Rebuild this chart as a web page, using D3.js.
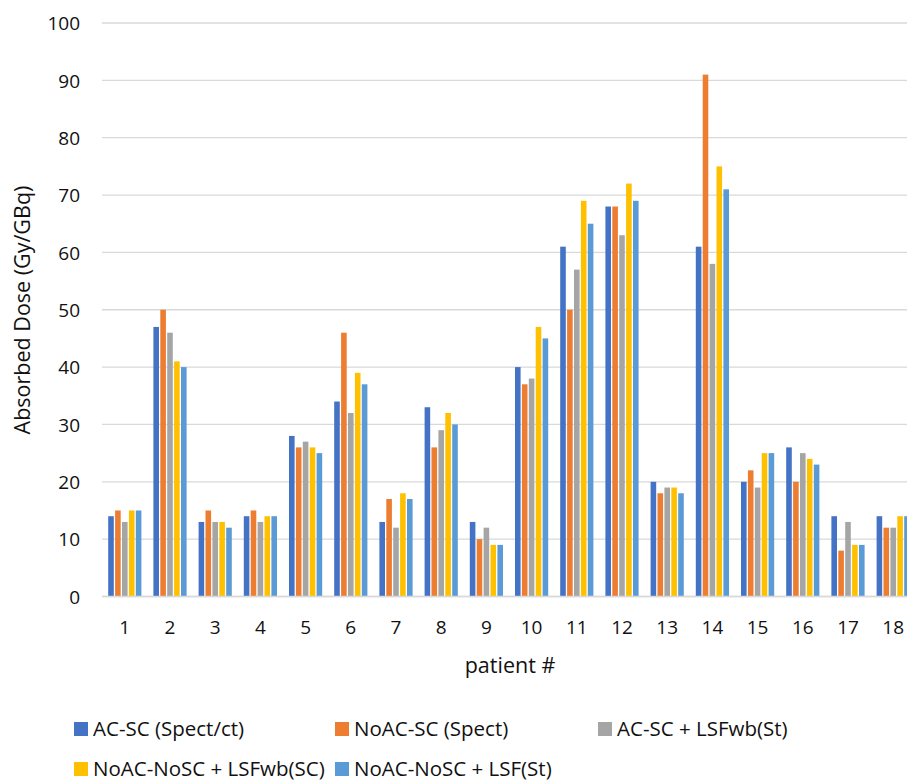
<!DOCTYPE html>
<html>
<head>
<meta charset="utf-8">
<script src="https://cdn.jsdelivr.net/npm/d3@7"></script>
<style>
  html, body { margin: 0; padding: 0; background: #fff; }
  svg { display: block; }
  text { font-family: "Open Sans", "Noto Sans", sans-serif; fill: #111; }
</style>
</head>
<body>
<svg id="chart" width="907" height="783"></svg>
<script>
// Patients on the category axis
const patients = ["1","2","3","4","5","6","7","8","9","10","11","12","13","14","15","16","17","18"];

// Absorbed dose per patient (Gy/GBq) for each reconstruction method
const acScSpectCt     = [14, 47, 13, 14, 28, 34, 13, 33, 13, 40, 61, 68, 20, 61, 20, 26, 14, 14];
const noAcScSpect     = [15, 50, 15, 15, 26, 46, 17, 26, 10, 37, 50, 68, 18, 91, 22, 20,  8, 12];
const acScLsfwbSt     = [13, 46, 13, 13, 27, 32, 12, 29, 12, 38, 57, 63, 19, 58, 19, 25, 13, 12];
const noAcNoScLsfwbSc = [15, 41, 13, 14, 26, 39, 18, 32,  9, 47, 69, 72, 19, 75, 25, 24,  9, 14];
const noAcNoScLsfSt   = [15, 40, 12, 14, 25, 37, 17, 30,  9, 45, 65, 69, 18, 71, 25, 23,  9, 14];

const seriesNames = [
  "AC-SC (Spect/ct)",
  "NoAC-SC (Spect)",
  "AC-SC + LSFwb(St)",
  "NoAC-NoSC + LSFwb(SC)",
  "NoAC-NoSC + LSF(St)"
];
const seriesValues = [acScSpectCt, noAcScSpect, acScLsfwbSt, noAcNoScLsfwbSc, noAcNoScLsfSt];
const seriesColors = ["#4472C4", "#ED7D31", "#A5A5A5", "#FFC000", "#5B9BD5"];

const yTicks = [0, 10, 20, 30, 40, 50, 60, 70, 80, 90, 100];

const svg = d3.select("#chart");

// Scales
const x0 = d3.scaleBand().domain(patients).range([102.2, 915.8]).padding(0);
const x1 = d3.scaleBand().domain(d3.range(seriesNames.length))
  .range([0, x0.bandwidth()]).paddingInner(0.19).paddingOuter(0.87);
const y = d3.scaleLinear().domain([0, 100]).range([596.5, 23]);

// Horizontal gridlines
svg.append("g")
  .selectAll("line")
  .data(yTicks)
  .join("line")
  .attr("x1", 102).attr("x2", 920)
  .attr("y1", d => y(d)).attr("y2", d => y(d))
  .attr("stroke", "#d9d9d9")
  .attr("stroke-width", 1.3);

// Y axis labels
const yAxis = d3.axisLeft(y).tickValues(yTicks).tickSize(0).tickPadding(0);
const gy = svg.append("g").attr("transform", "translate(80,0)").call(yAxis);
gy.select(".domain").remove();
gy.selectAll("text")
  .attr("font-size", 19)
  .attr("font-family", "Open Sans, sans-serif")
  .attr("fill", "#111")
  .attr("dy", "0.36em");

// Bars
const groups = svg.append("g")
  .selectAll("g")
  .data(patients)
  .join("g")
  .attr("transform", d => `translate(${x0(d)},0)`);

groups.selectAll("rect")
  .data((d, i) => seriesValues.map((vals, s) => ({ s, v: vals[i] })))
  .join("rect")
  .attr("x", d => x1(d.s))
  .attr("width", x1.bandwidth())
  .attr("y", d => y(d.v))
  .attr("height", d => y(0) - y(d.v))
  .attr("fill", d => seriesColors[d.s]);

// Baseline
svg.append("line")
  .attr("x1", 102).attr("x2", 920)
  .attr("y1", y(0)).attr("y2", y(0))
  .attr("stroke", "#d9d9d9").attr("stroke-width", 1.5);

// X axis labels
const xAxis = d3.axisBottom(x0).tickSize(0).tickPadding(0);
const gx = svg.append("g").attr("transform", `translate(0,${y(0)})`).call(xAxis);
gx.select(".domain").remove();
gx.selectAll("text")
  .attr("font-size", 19)
  .attr("font-family", "Open Sans, sans-serif")
  .attr("fill", "#111")
  .attr("y", 37.5)
  .attr("dy", null);

// Axis titles
svg.append("text")
  .attr("x", 510).attr("y", 673)
  .attr("text-anchor", "middle")
  .attr("font-size", 21.5)
  .text("patient #");

svg.append("text")
  .attr("transform", "translate(30,310) rotate(-90)")
  .attr("text-anchor", "middle")
  .attr("font-size", 21.5)
  .text("Absorbed Dose (Gy/GBq)");

// Legend
const legendPos = [
  { x: 74, y: 729 }, { x: 335, y: 729 }, { x: 598, y: 729 },
  { x: 74, y: 769 }, { x: 335, y: 769 }
];
const legend = svg.append("g")
  .selectAll("g")
  .data(seriesNames)
  .join("g")
  .attr("transform", (d, i) => `translate(${legendPos[i].x},${legendPos[i].y})`);

legend.append("rect")
  .attr("x", 0).attr("y", -7)
  .attr("width", 14).attr("height", 14)
  .attr("fill", (d, i) => seriesColors[i]);

legend.append("text")
  .attr("x", 19).attr("y", 0)
  .attr("dy", "0.36em")
  .attr("font-size", 20.5)
  .text(d => d);
</script>
</body>
</html>
